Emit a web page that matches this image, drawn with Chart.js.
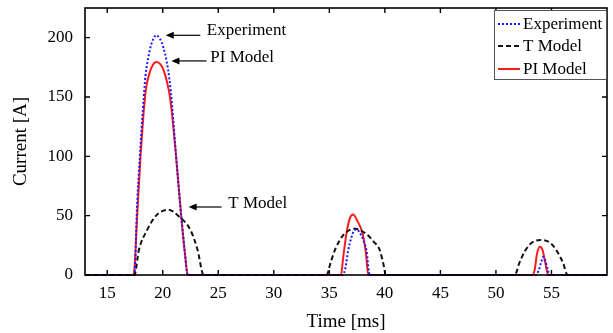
<!DOCTYPE html>
<html>
<head>
<meta charset="utf-8">
<script src="https://cdn.jsdelivr.net/npm/chart.js@4/dist/chart.umd.min.js"></script>
<style>
  html, body { margin: 0; padding: 0; background: #fff; }
  #wrap { width: 613px; height: 333px; }
</style>
</head>
<body>
<div id="wrap"><canvas id="c" width="613" height="333"></canvas></div>
<script>
// ---- Data ----
const xTicks = [15, 20, 25, 30, 35, 40, 45, 50, 55];
const yTicks = [0, 50, 100, 150, 200];

const seriesLabels = ["Experiment", "T Model", "PI Model"];

const expTime = [13, 17.35, 17.5, 17.65, 17.94, 18.29, 18.45, 18.8, 19.1, 19.43, 19.75, 20.05, 20.35, 20.6, 20.85, 21.2, 21.66, 22.0, 22.25,
                 36.2, 36.45, 36.7, 37.0, 37.2, 37.44, 37.9, 38.15, 38.34, 38.64,
                 53.6, 53.85, 54.05, 54.26, 54.45, 54.65, 54.85, 60];
const expCurrent = [0, 0, 5, 50, 100, 150, 168, 188, 198, 202, 199, 192, 180, 165, 142, 100, 50, 18, 0,
                    0, 6, 21, 32, 37, 38.3, 33, 27, 21, 0,
                    0, 4, 10, 15.4, 12, 5, 0, 0];

const tTime = [13, 17.45, 17.85, 18.6, 19.4, 20.5, 21.5, 22.49, 23.14, 23.68,
               34.75, 35.1, 35.5, 36.2, 37.3, 38.4, 39.0, 39.54, 39.85, 40.1,
               51.7, 52.1, 52.6, 53.2, 54.05, 54.9, 55.5, 56.05, 56.45, 60];
const tCurrent = [0, 0, 21, 38, 50, 55, 49, 38, 21, 0,
                  0, 10, 21, 33, 39, 34, 28, 21, 10, 0,
                  0, 10, 20, 27, 29.5, 27, 20, 10, 0, 0];

const piTime = [13, 17.35, 17.45, 17.7, 18.0, 18.45, 18.74, 19.1, 19.45, 19.8, 20.1, 20.4, 20.65, 20.9, 21.2, 21.66, 22.0, 22.25,
                36.05, 36.25, 36.54, 36.85, 37.15, 37.5, 37.99, 38.3, 38.5,
                53.3, 53.5, 53.7, 53.96, 54.2, 54.45, 54.7, 60];
const piCurrent = [0, 0, 5, 50, 100, 154, 168, 177, 179.5, 177.5, 172, 162, 150, 130, 100, 50, 18, 0,
                   0, 15, 35, 48, 51, 46, 35, 18, 0,
                   0, 5, 18, 23.8, 21, 10, 0, 0];

// annotations: [text, arrowTipX, arrowTipY, arrowTailX, textX, textY] in data units
const annotations = [
  ["Experiment", 20.27, 202, 23.38, 23.97, 206],
  ["PI Model",   20.78, 180.4, 23.95, 24.28, 183],
  ["T Model",    22.33, 57.3, 25.3, 25.9, 60.4]
];

function pts(xs, ys) { return xs.map((x, i) => ({x: x, y: ys[i]})); }

const serif = "'Liberation Serif', 'Times New Roman', serif";

const frame = {
  id: 'frame',
  afterDatasetsDraw(chart) {
    const {ctx, chartArea: a, scales: {x, y}} = chart;
    ctx.save();
    ctx.strokeStyle = '#000';
    ctx.lineWidth = 1.6;
    ctx.strokeRect(a.left, a.top, a.right - a.left, a.bottom - a.top);
    const tl = 5;
    ctx.lineWidth = 1.4;
    ctx.beginPath();
    xTicks.forEach(v => {
      const px = x.getPixelForValue(v);
      ctx.moveTo(px, a.bottom); ctx.lineTo(px, a.bottom - tl);
      ctx.moveTo(px, a.top); ctx.lineTo(px, a.top + tl);
    });
    yTicks.forEach(v => {
      const py = y.getPixelForValue(v);
      ctx.moveTo(a.left, py); ctx.lineTo(a.left + tl, py);
      ctx.moveTo(a.right, py); ctx.lineTo(a.right - tl, py);
    });
    ctx.stroke();

    // annotations with arrows
    ctx.font = '17px ' + serif;
    ctx.fillStyle = '#000';
    ctx.textBaseline = 'middle';
    ctx.textAlign = 'left';
    annotations.forEach(([txt, tx, ty, tailX, lx, ly]) => {
      const x1 = x.getPixelForValue(tx), y1 = y.getPixelForValue(ty);
      const x2 = x.getPixelForValue(tailX);
      ctx.lineWidth = 1.2;
      ctx.beginPath();
      ctx.moveTo(x1 + 5, y1); ctx.lineTo(x2, y1);
      ctx.stroke();
      ctx.beginPath();
      ctx.moveTo(x1, y1); ctx.lineTo(x1 + 8, y1 - 3.5); ctx.lineTo(x1 + 8, y1 + 3.5); ctx.closePath();
      ctx.fill();
      ctx.fillText(txt, x.getPixelForValue(lx), y.getPixelForValue(ly));
    });

    // legend box
    const bx = 494, by = 10, bw = a.right - 494, bh = 70;
    ctx.fillStyle = '#fff';
    ctx.fillRect(bx, by, bw, bh);
    ctx.strokeStyle = '#555';
    ctx.lineWidth = 1;
    ctx.strokeRect(bx + 0.5, by + 0.5, bw - 1, bh - 1);
    const rows = [24, 46, 69];
    chart.data.datasets.forEach((ds, i) => {
      const ry = rows[i];
      ctx.strokeStyle = ds.borderColor;
      ctx.lineWidth = ds.borderWidth;
      ctx.setLineDash(ds.borderDash || []);
      ctx.beginPath();
      ctx.moveTo(498, ry); ctx.lineTo(520, ry);
      ctx.stroke();
      ctx.setLineDash([]);
      ctx.fillStyle = '#000';
      ctx.font = '17px ' + serif;
      ctx.fillText(ds.label, 523, ry + 1);
    });
    ctx.restore();
  }
};

new Chart(document.getElementById('c'), {
  type: 'line',
  data: {
    datasets: [
      { label: seriesLabels[0], data: pts(expTime, expCurrent), borderColor: '#1a1aff', borderWidth: 2, borderDash: [2, 2], clip: false },
      { label: seriesLabels[1], data: pts(tTime, tCurrent), borderColor: '#111', borderWidth: 2, borderDash: [5, 3], clip: false },
      { label: seriesLabels[2], data: pts(piTime, piCurrent), borderColor: '#ff1a1a', borderWidth: 2, clip: false }
    ]
  },
  options: {
    responsive: false,
    animation: false,
    events: [],
    layout: { autoPadding: false, padding: { left: 0, top: 8, right: 6, bottom: 0 } },
    elements: { point: { radius: 0 }, line: { cubicInterpolationMode: 'monotone' } },
    plugins: { legend: { display: false }, tooltip: { enabled: false } },
    scales: {
      x: {
        type: 'linear', min: 13, max: 60,
        afterBuildTicks: s => { s.ticks = xTicks.map(v => ({value: v})); },
        afterFit: s => { s.height = 58; s.paddingLeft = 0; s.paddingRight = 0; },
        grid: { display: false, drawTicks: false },
        border: { display: false },
        ticks: { color: '#000', padding: 8, font: { family: serif, size: 17 }, maxRotation: 0 },
        title: { display: true, text: 'Time [ms]', color: '#000', font: { family: serif, size: 19 }, padding: { top: 0, bottom: 0 } }
      },
      y: {
        min: 0, max: 225,
        afterBuildTicks: s => { s.ticks = yTicks.map(v => ({value: v})); },
        afterFit: s => { s.width = 85; s.paddingTop = 0; s.paddingBottom = 0; },
        grid: { display: false, drawTicks: false },
        border: { display: false },
        ticks: { color: '#000', padding: 12, font: { family: serif, size: 17 } },
        title: { display: true, text: 'Current [A]', color: '#000', font: { family: serif, size: 19 }, padding: { top: 10, bottom: 0 } }
      }
    }
  },
  plugins: [frame]
});
</script>
</body>
</html>
